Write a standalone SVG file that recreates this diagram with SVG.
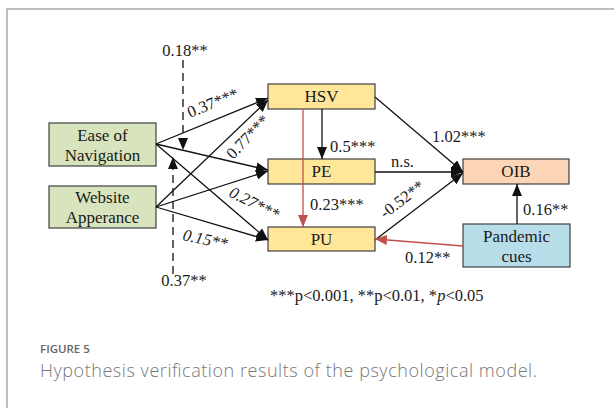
<svg xmlns="http://www.w3.org/2000/svg" width="614" height="408" viewBox="0 0 614 408">
  <style>
    .box { stroke: #404040; stroke-width: 1.2; }
    .green { fill: #d7e4bd; }
    .yellow { fill: #ffe699; }
    .peach { fill: #fbd5b5; }
    .blue { fill: #b7dee8; }
    .node-text { font-family: "Liberation Serif", "Times New Roman", serif; font-size: 17px; fill: #1a1a1a; text-anchor: middle; }
    .lbl { font-family: "Liberation Serif", "Times New Roman", serif; font-size: 16.5px; fill: #1a1a1a; }
    .it { font-style: italic; }
    .edge { fill: none; stroke: #111; stroke-width: 1.3; marker-end: url(#arrow); }
    .edge-red { fill: none; stroke: #c0504d; stroke-width: 1.3; marker-end: url(#arrow-red); }
    .dash { stroke-dasharray: 8 5; }
    .frame { stroke: #aaaaaa; stroke-width: 1.5; fill: none; }
    .fig-label { font-family: "Open Sans", "Lato", sans-serif; font-size: 11.5px; font-weight: 600; fill: #666; }
    .caption { font-family: "Open Sans", "Lato", sans-serif; font-size: 18px; font-weight: 300; fill: #777; }
  </style>
  <defs>
    <marker id="arrow" markerUnits="userSpaceOnUse" markerWidth="12" markerHeight="10" refX="12" refY="5" orient="auto">
      <path d="M0,0 L12,5 L0,10 z" fill="#111"/>
    </marker>
    <marker id="arrow-red" markerUnits="userSpaceOnUse" markerWidth="12" markerHeight="10" refX="12" refY="5" orient="auto">
      <path d="M0,0 L12,5 L0,10 z" fill="#c0504d"/>
    </marker>
  </defs>

  <rect width="614" height="408" fill="#ffffff"/>
  <path class="frame" d="M7,408 L7,9 L614,9"/>

  <!-- nodes -->
  <g id="ease-of-navigation">
    <rect class="box green" x="49" y="123" width="107" height="43"/>
    <text class="node-text" x="102.5" y="141">Ease of</text>
    <text class="node-text" x="102.5" y="161">Navigation</text>
  </g>
  <g id="website-apperance">
    <rect class="box green" x="49" y="186" width="107" height="42"/>
    <text class="node-text" x="102.5" y="203">Website</text>
    <text class="node-text" x="102.5" y="223">Apperance</text>
  </g>
  <g id="hsv">
    <rect class="box yellow" x="268" y="84" width="107" height="25"/>
    <text class="node-text" x="321.5" y="102">HSV</text>
  </g>
  <g id="pe">
    <rect class="box yellow" x="268" y="159" width="107" height="25"/>
    <text class="node-text" x="321.5" y="177">PE</text>
  </g>
  <g id="pu">
    <rect class="box yellow" x="268" y="227" width="107" height="24"/>
    <text class="node-text" x="321.5" y="245">PU</text>
  </g>
  <g id="oib">
    <rect class="box peach" x="463" y="159" width="106" height="25"/>
    <text class="node-text" x="516" y="177">OIB</text>
  </g>
  <g id="pandemic-cues">
    <rect class="box blue" x="463" y="224" width="107" height="43"/>
    <text class="node-text" x="516.5" y="242">Pandemic</text>
    <text class="node-text" x="516.5" y="262">cues</text>
  </g>

  <!-- connectors (drawn over the boxes so the HSV-PU line shows across PE) -->
  <g id="connectors">
    <path class="edge" d="M156,144 L268,98"/>
    <path class="edge" d="M156,144 L268,170"/>
    <path class="edge" d="M156,144 L268,240"/>
    <path class="edge" d="M156,207 L268,100"/>
    <path class="edge" d="M156,207 L268,171"/>
    <path class="edge" d="M156,207 L268,240"/>
    <path class="edge" d="M322,109 L322,159"/>
    <path class="edge-red" d="M303,109.6 L303,227"/>
    <path class="edge" d="M375,97 L463,172"/>
    <path class="edge" d="M375,172 L463,172"/>
    <path class="edge" d="M375,240 L463,173"/>
    <path class="edge" d="M517,224 L517,184"/>
    <path class="edge-red" d="M463,246 L375,239"/>
    <path class="edge dash" d="M183,60 L183,150"/>
    <path class="edge dash" d="M173,274 L173,157"/>
  </g>

  <!-- path coefficients -->
  <g id="edge-labels">
    <text class="lbl" x="185" y="56" text-anchor="middle">0.18**</text>
    <text class="lbl" x="184" y="286" text-anchor="middle">0.37**</text>
    <text class="lbl" transform="translate(190,118) rotate(-22)">0.37***</text>
    <text class="lbl" transform="translate(233,160) rotate(-46)">0.77***</text>
    <text class="lbl it" transform="translate(228,196) rotate(27)">0.27***</text>
    <text class="lbl it" transform="translate(182,240) rotate(12)">0.15**</text>
    <text class="lbl" x="330" y="152">0.5***</text>
    <text class="lbl" x="310" y="210">0.23***</text>
    <text class="lbl" x="391" y="167">n.s.</text>
    <text class="lbl" x="432" y="142">1.02***</text>
    <text class="lbl" transform="translate(385,219) rotate(-37)">-0.52**</text>
    <text class="lbl" x="523" y="215">0.16**</text>
    <text class="lbl" x="405" y="263">0.12**</text>
  </g>

  <!-- significance note -->
  <text class="lbl" x="270" y="301">***p&lt;0.001, **p&lt;0.01, *<tspan class="it">p</tspan>&lt;0.05</text>

  <!-- caption -->
  <text class="fig-label" x="40" y="353">FIGURE 5</text>
  <text class="caption" x="40" y="377" textLength="497" lengthAdjust="spacing">Hypothesis verification results of the psychological model.</text>
</svg>
